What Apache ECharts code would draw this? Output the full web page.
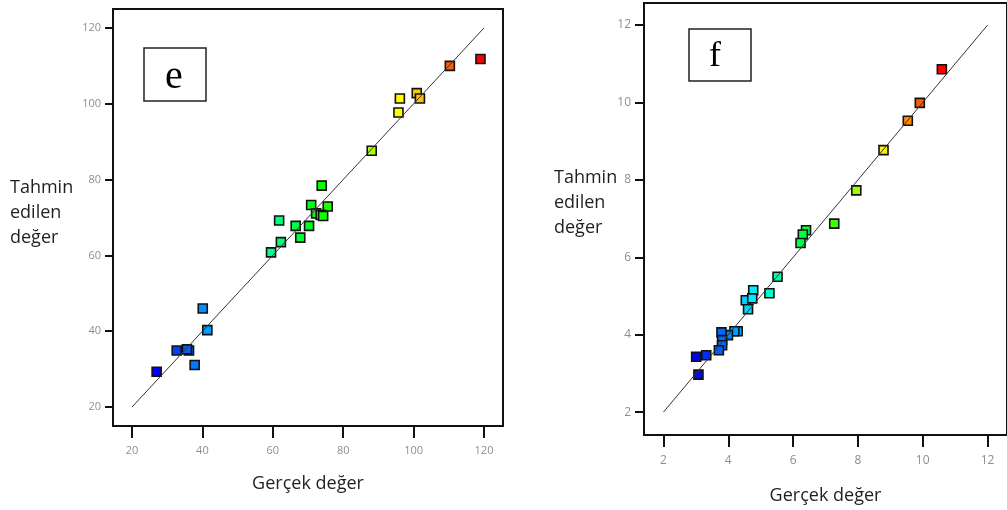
<!DOCTYPE html>
<html>
<head>
<meta charset="utf-8">
<script src="https://cdn.jsdelivr.net/npm/echarts@6/dist/echarts.min.js"></script>
<style>html,body{margin:0;padding:0;background:#fff;}#c{width:1007px;height:510px;}</style>
</head>
<body>
<div id="c"></div>
<script>
// Panel e
const actualE = [119, 110.3, 96.1, 100.9, 101.8, 95.7, 88.1, 73.9, 70.9, 75.6, 72.3, 73.6, 74.3, 61.8, 66.5, 70.3, 67.8, 62.3, 59.5, 40.1, 41.4, 32.7, 36.2, 35.6, 37.8, 27.0];
const predE   = [111.8, 110.0, 101.4, 102.8, 101.4, 97.7, 87.6, 78.4, 73.3, 72.9, 71.1, 70.7, 70.4, 69.2, 67.8, 67.8, 64.7, 63.5, 60.8, 46.0, 40.3, 34.9, 34.9, 35.2, 31.1, 29.3];
const lineE = [20, 120];
const ticksE = [20, 40, 60, 80, 100, 120];
// Panel f
const actualF = [10.59, 9.91, 9.54, 8.79, 7.95, 7.27, 6.40, 6.30, 6.23, 5.52, 4.77, 5.27, 4.54, 4.74, 4.61, 4.29, 4.19, 3.99, 3.79, 3.81, 3.81, 3.71, 3.32, 3.01, 3.08];
const predF   = [10.86, 9.99, 9.53, 8.77, 7.73, 6.87, 6.70, 6.59, 6.37, 5.50, 5.15, 5.07, 4.89, 4.94, 4.66, 4.09, 4.09, 3.99, 4.06, 3.86, 3.73, 3.60, 3.47, 3.43, 2.97];
const lineF = [2, 12];
const ticksF = [2, 4, 6, 8, 10, 12];

const xName = 'Gerçek değer';
const yName = 'Tahmin\nedilen\ndeğer';
const panelLabels = ['e', 'f'];

const ramp = ['#0000ff', '#00ffff', '#00ff00', '#ffff00', '#ff0000'];
const nameFont = '"Open Sans", sans-serif';

function pairs(a, b) { return a.map((v, i) => [v, b[i]]); }

function axis(type, gridIndex, min, max, ticks, tickLen, labelMargin, labelSize, name, nameGap) {
  const a = {
    type: 'value', gridIndex, min, max,
    splitLine: { show: false },
    axisLine: { show: true, onZero: false, lineStyle: { color: '#111', width: 2 } },
    axisTick: { show: true, customValues: ticks, length: tickLen, lineStyle: { color: '#111', width: 2 } },
    axisLabel: { customValues: ticks, margin: labelMargin, fontSize: labelSize, color: '#8f8f8f', fontFamily: nameFont },
  };
  if (name) {
    a.name = name; a.nameLocation = 'middle'; a.nameGap = nameGap;
    a.nameTextStyle = { fontSize: 18, color: '#1f1f1f', fontFamily: nameFont };
  }
  return a;
}

const chart = echarts.init(document.getElementById('c'), null, { renderer: 'canvas' });
chart.setOption({
  animation: false,
  backgroundColor: '#fff',
  grid: [
    { left: 113, top: 9, right: 504, bottom: 84, show: true, borderColor: '#111', borderWidth: 2, backgroundColor: 'transparent' },
    { left: 644, top: 3, right: -9, bottom: 75, show: true, borderColor: '#111', borderWidth: 2, backgroundColor: 'transparent' }
  ],
  xAxis: [
    axis('x', 0, 14.6, 125.4, ticksE, 12, 19, 11, xName, 49),
    axis('x', 1, 1.4, 12.6, ticksF, 12, 20, 12, xName, 52)
  ],
  yAxis: [
    axis('y', 0, 15, 125, ticksE, 8, 12, 11),
    axis('y', 1, 1.41, 12.57, ticksF, 9, 13, 12)
  ],
  visualMap: [
    { type: 'continuous', show: false, dimension: 0, seriesIndex: 1,
      min: Math.min(...actualE), max: Math.max(...actualE), inRange: { color: ramp } },
    { type: 'continuous', show: false, dimension: 0, seriesIndex: 3,
      min: Math.min(...actualF), max: Math.max(...actualF), inRange: { color: ramp } }
  ],
  series: [
    { type: 'line', xAxisIndex: 0, yAxisIndex: 0, data: [[lineE[0], lineE[0]], [lineE[1], lineE[1]]],
      symbol: 'none', silent: true, lineStyle: { color: '#333', width: 1 } },
    { type: 'scatter', xAxisIndex: 0, yAxisIndex: 0, data: pairs(actualE, predE),
      symbol: 'rect', symbolSize: 9, itemStyle: { borderColor: '#111', borderWidth: 1.6, opacity: 1 } },
    { type: 'line', xAxisIndex: 1, yAxisIndex: 1, data: [[lineF[0], lineF[0]], [lineF[1], lineF[1]]],
      symbol: 'none', silent: true, lineStyle: { color: '#333', width: 1 } },
    { type: 'scatter', xAxisIndex: 1, yAxisIndex: 1, data: pairs(actualF, predF),
      symbol: 'rect', symbolSize: 9, itemStyle: { borderColor: '#111', borderWidth: 1.6, opacity: 1 } }
  ],
  graphic: [
    { type: 'text', left: 10, top: 175, style: { text: yName, font: '18px ' + nameFont, fill: '#1f1f1f', lineHeight: 25 } },
    { type: 'text', left: 554, top: 165, style: { text: yName, font: '18px ' + nameFont, fill: '#1f1f1f', lineHeight: 25 } },
    { type: 'rect', shape: { x: 144, y: 48, width: 62, height: 53 }, style: { fill: '#fff', stroke: '#222', lineWidth: 1.5 } },
    { type: 'text', x: 174, y: 77, style: { text: panelLabels[0], font: '40px "Liberation Serif", serif', fill: '#000', align: 'center', verticalAlign: 'middle' } },
    { type: 'rect', shape: { x: 689, y: 29, width: 62, height: 52 }, style: { fill: '#fff', stroke: '#222', lineWidth: 1.5 } },
    { type: 'text', x: 715, y: 57, style: { text: panelLabels[1], font: '36px "Liberation Serif", serif', fill: '#000', align: 'center', verticalAlign: 'middle' } }
  ]
});
</script>
</body>
</html>
